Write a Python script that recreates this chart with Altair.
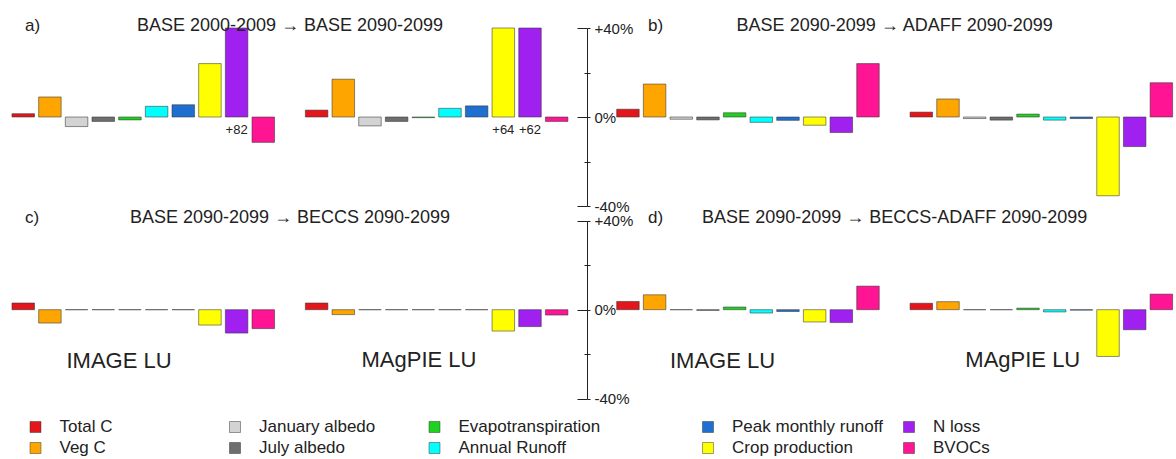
import altair as alt
import pandas as pd

FONT = "Liberation Sans"

variables = ["Total C", "Veg C", "January albedo", "July albedo", "Evapotranspiration",
             "Annual Runoff", "Peak monthly runoff", "Crop production", "N loss", "BVOCs"]
colors = ["#e3161c", "#ffa500", "#d3d3d3", "#6e6e6e", "#1fd21f",
          "#00ffff", "#1f6fd0", "#ffff00", "#a020f0", "#ff1493"]
groups = ["IMAGE", "MAgPIE"]
group_labels = ["IMAGE LU", "MAgPIE LU"]

# % change per variable, in the order of `variables`
a_image = [1.5, 9.0, -4.3, -2.0, -1.3, 4.8, 5.5, 24.0, 82, -11.4]
a_magpie = [3.1, 17.0, -4.0, -2.0, -0.3, 3.9, 5.0, 64, 62, -2.0]
b_image = [3.5, 14.8, -1.0, -1.3, 1.9, -2.4, -1.5, -3.7, -7.0, 24.0]
b_magpie = [2.2, 8.1, -0.7, -1.4, 1.3, -1.4, -0.7, -35.4, -13.3, 15.4]
c_image = [3.0, -6.0, 0.0, 0.0, 0.0, 0.0, 0.0, -6.9, -10.5, -8.5]
c_magpie = [3.0, -2.2, 0.0, 0.0, 0.0, 0.0, 0.0, -9.6, -7.6, -2.4]
d_image = [3.7, 6.7, 0.0, -0.3, 1.2, -1.5, -0.8, -5.5, -5.8, 10.6]
d_magpie = [2.9, 3.6, 0.0, 0.0, 0.7, -1.0, -0.2, -21.0, -9.0, 7.0]

titles = ["BASE 2000-2009 \u2192 BASE 2090-2099",
          "BASE 2090-2099 \u2192 ADAFF 2090-2099",
          "BASE 2090-2099 \u2192 BECCS 2090-2099",
          "BASE 2090-2099 \u2192 BECCS-ADAFF 2090-2099"]
letters = ["a)", "b)", "c)", "d)"]
tick_values = [-40, -30, -20, -10, 0, 10, 20, 30, 40]
y_limit = 40

slot_domain = [f"{groups[0]}|{v}" for v in variables] + ["gap"] + [f"{groups[1]}|{v}" for v in variables]
cscale = alt.Scale(domain=variables, range=colors)


def panel_df(img, mag):
    rows = []
    for g, vals in ((groups[0], img), (groups[1], mag)):
        for v, val in zip(variables, vals):
            rows.append({"slot": f"{g}|{v}", "variable": v, "value": val,
                         "label": f"+{val:g}" if val > y_limit else ""})
    return pd.DataFrame(rows)


def panel(img, mag, side, width, height, x_range, y_range, letter, title,
          letter_x, title_x, text_base, group_pos=None):
    df = panel_df(img, mag)
    xscale = alt.Scale(domain=slot_domain, range=x_range, paddingInner=0.156, paddingOuter=0.078)
    yscale = alt.Scale(domain=[-y_limit, y_limit], range=y_range, clamp=True, nice=False, zero=False)
    if side == "right":
        axis = alt.Axis(orient="right", values=tick_values, tickSize=3,
                        labelExpr="datum.value === 0 ? '0%' : (datum.value === 40 ? '+40%' : (datum.value === -40 ? '-40%' : ''))",
                        labelFont=FONT, labelFontSize=15, labelColor="#222222", labelPadding=4,
                        labelOverlap=False, domainColor="#222222", tickColor="#222222",
                        title=None, grid=False)
    else:
        axis = alt.Axis(orient="left", values=tick_values,
                        tickSize={"condition": {"test": "datum.value % 40 === 0", "value": 10}, "value": 3},
                        labels=False, domain=False, tickColor="#222222", title=None, grid=False)
    bars = alt.Chart(df).mark_bar(stroke="#333333", strokeWidth=1, strokeOpacity=0.55).encode(
        x=alt.X("slot:N", scale=xscale, axis=None),
        y=alt.Y("value:Q", scale=yscale, axis=axis),
        y2=alt.datum(0),
        color=alt.Color("variable:N", scale=cscale, legend=None),
    )
    over = alt.Chart(df).transform_filter(f"datum.value > {y_limit}").mark_text(
        font=FONT, fontSize=13, dy=13, color="#222222").encode(
        x=alt.X("slot:N", scale=xscale, axis=None),
        y=alt.datum(0),
        text="label:N",
    )
    lt = alt.Chart(pd.DataFrame({"t": [letter]})).mark_text(
        align="left", baseline="alphabetic", font=FONT, fontSize=17, color="#222222").encode(
        x=alt.value(letter_x), y=alt.value(text_base), text="t:N")
    tt = alt.Chart(pd.DataFrame({"t": [title]})).mark_text(
        align="center", baseline="alphabetic", font=FONT, fontSize=18, color="#222222").encode(
        x=alt.value(title_x), y=alt.value(text_base), text="t:N")
    layers = [bars, over, lt, tt]
    if group_pos:
        for lab, (gx, gy) in zip(group_labels, group_pos):
            layers.append(alt.Chart(pd.DataFrame({"t": [lab]})).mark_text(
                align="center", baseline="alphabetic", font=FONT, fontSize=22, color="#222222").encode(
                x=alt.value(gx), y=alt.value(gy), text="t:N"))
    return alt.layer(*layers).properties(width=width, height=height)


pa = panel(a_image, a_magpie, "right", 587, 206, [9.9, 570], [206, 28], letters[0], titles[0], 25, 290, 30.5)
pb = panel(b_image, b_magpie, "left", 589, 206, [27.6, 587.7], [206, 28], letters[1], titles[1], 61, 307.7, 30.5)
pc = panel(c_image, c_magpie, "right", 587, 200, [9.9, 570], [192.7, 14.7], letters[2], titles[2], 25, 290, 17.3,
           group_pos=[(119, 162.3), (419, 160.7)])
pd_ = panel(d_image, d_magpie, "left", 589, 200, [27.6, 587.7], [192.7, 14.7], letters[3], titles[3], 61, 307.7, 17.3,
            group_pos=[(135.5, 162.3), (435.8, 160.7)])


def legend_part(names, width, x_range):
    # legend entries run down the columns: two per column
    df = pd.DataFrame({"variable": names,
                       "col": [i // 2 for i in range(len(names))],
                       "row": [i % 2 for i in range(len(names))]})
    ncol = (len(names) + 1) // 2
    xsc = alt.Scale(type="point", domain=list(range(ncol)), range=x_range, padding=0)
    ysc = alt.Scale(type="point", domain=[0, 1], range=[21, 42], padding=0)
    sq = alt.Chart(df).mark_square(size=121, opacity=1, stroke="#333333", strokeWidth=0.8, strokeOpacity=0.6).encode(
        x=alt.X("col:O", scale=xsc, axis=None), y=alt.Y("row:O", scale=ysc, axis=None),
        color=alt.Color("variable:N", scale=cscale, legend=None))
    tx = alt.Chart(df).mark_text(align="left", baseline="middle", dx=24, font=FONT, fontSize=17,
                                 color="#222222").encode(
        x=alt.X("col:O", scale=xsc, axis=None), y=alt.Y("row:O", scale=ysc, axis=None), text="variable:N")
    return alt.layer(sq, tx).properties(width=width, height=53)


leg_left = legend_part(variables[0:6], 587, [35.5, 434.5])
leg_right = legend_part(variables[6:10], 589, [121, 322])

chart = alt.concat(pa, pb, pc, pd_, leg_left, leg_right, columns=2, spacing=0, bounds="flush").properties(
    padding=0, background="white"
).configure_view(stroke=None)

chart.save("out.html", embed_options={"renderer": "svg", "actions": False})
